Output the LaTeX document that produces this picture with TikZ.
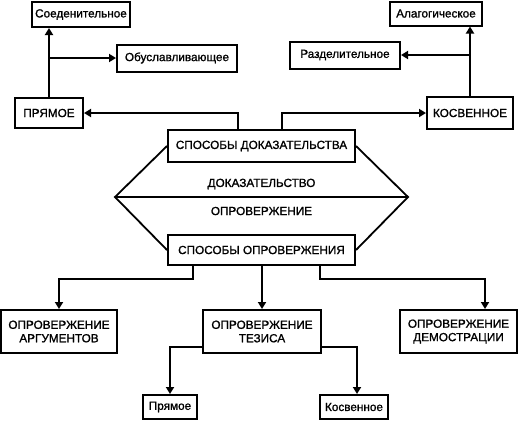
\documentclass[tikz,border=0pt]{standalone}
\usepackage{fontspec}
\setmainfont{Liberation Sans}[FakeBold=1.2]
\usetikzlibrary{arrows.meta}
\begin{document}
\begin{tikzpicture}[x=1bp,y=-1bp,
  box/.style={draw, line width=2bp, inner sep=0pt, align=center,
    font=\fontsize{11.8}{13.5}\selectfont},
  lbl/.style={inner sep=0pt, font=\fontsize{11.8}{13.5}\selectfont},
  arr/.style={line width=2bp, -{Triangle[length=7bp,width=8bp]}},
  ln/.style={line width=1.8bp}]
\useasboundingbox (0,0) rectangle (519,420);
% top-left
\node[box, minimum width=98bp, minimum height=25bp] (soed) at (81,14.5) {Соеденительное};
\node[box, minimum width=120bp, minimum height=27bp] (obusl) at (177,58) {Обуславливающее};
\node[box, minimum width=68bp, minimum height=30bp] (pryam) at (49,113) {ПРЯМОЕ};
% top-right
\node[box, minimum width=92bp, minimum height=24bp] (alag) at (436,13.5) {Алагогическое};
\node[box, minimum width=110bp, minimum height=27bp] (razd) at (345,55) {Разделительное};
\node[box, minimum width=86bp, minimum height=32bp] (kosv) at (470,113) {КОСВЕННОЕ};
% center
\node[box, minimum width=187bp, minimum height=32bp] (sdok) at (261.5,146) {СПОСОБЫ ДОКАЗАТЕЛЬСТВА};
\node[box, minimum width=187bp, minimum height=30bp] (sopr) at (261.5,250) {СПОСОБЫ ОПРОВЕРЖЕНИЯ};
\coordinate (hl) at (115,197);
\coordinate (hr) at (408,197);
\draw[ln] (sdok.west) -- (hl) -- (sopr.west);
\draw[ln] (sdok.east) -- (hr) -- (sopr.east);
\draw[ln] (hl) -- (hr);
\node[lbl] (tdok) at (261.5,184) {ДОКАЗАТЕЛЬСТВО};
\node[lbl] (topr) at (261.5,211) {ОПРОВЕРЖЕНИЕ};
% bottom
\node[box, minimum width=116bp, minimum height=43bp] (arg) at (59,331.5) {ОПРОВЕРЖЕНИЕ\\АРГУМЕНТОВ};
\node[box, minimum width=118bp, minimum height=43bp] (tez) at (262,331.5) {ОПРОВЕРЖЕНИЕ\\ТЕЗИСА};
\node[box, minimum width=117bp, minimum height=43bp] (dem) at (458.5,331.5) {ОПРОВЕРЖЕНИЕ\\ДЕМОСТРАЦИИ};
\node[box, minimum width=54bp, minimum height=24bp] (pr2) at (170,407) {Прямое};
\node[box, minimum width=68bp, minimum height=24bp] (kos2) at (354,407) {Косвенное};
% connectors top-left
\coordinate (b1) at (49,58);
\draw[arr] (pryam.north) -- (soed.south -| pryam.north);
\draw[arr] (b1) -- (obusl.west);
% connectors top-right
\coordinate (b2) at (470,55);
\draw[arr] (kosv.north) -- (alag.south -| kosv.north);
\draw[arr] (b2) -- (razd.east);
% from sdok
\coordinate (c1) at (238,113);
\coordinate (c2) at (282,113);
\draw[arr] (sdok.north -| c1) -- (c1) -- (pryam.east);
\draw[arr] (sdok.north -| c2) -- (c2) -- (kosv.west);
% from sopr
\coordinate (d1) at (193,279);
\coordinate (d2) at (320,279);
\coordinate (d3) at (485,279);
\draw[arr] (sopr.south -| d1) -- (d1) -- (d1 -| arg.north) -- (arg.north);
\draw[arr] (sopr.south -| tez.north) -- (tez.north);
\draw[arr] (sopr.south -| d2) -- (d2) -- (d3) -- (dem.north -| d3);
% from tez
\coordinate (e1) at (170,347);
\coordinate (e2) at (357,347);
\draw[arr] (tez.west |- e1) -- (e1) -- (pr2.north -| e1);
\draw[arr] (tez.east |- e2) -- (e2) -- (kos2.north -| e2);
\end{tikzpicture}
\end{document}
